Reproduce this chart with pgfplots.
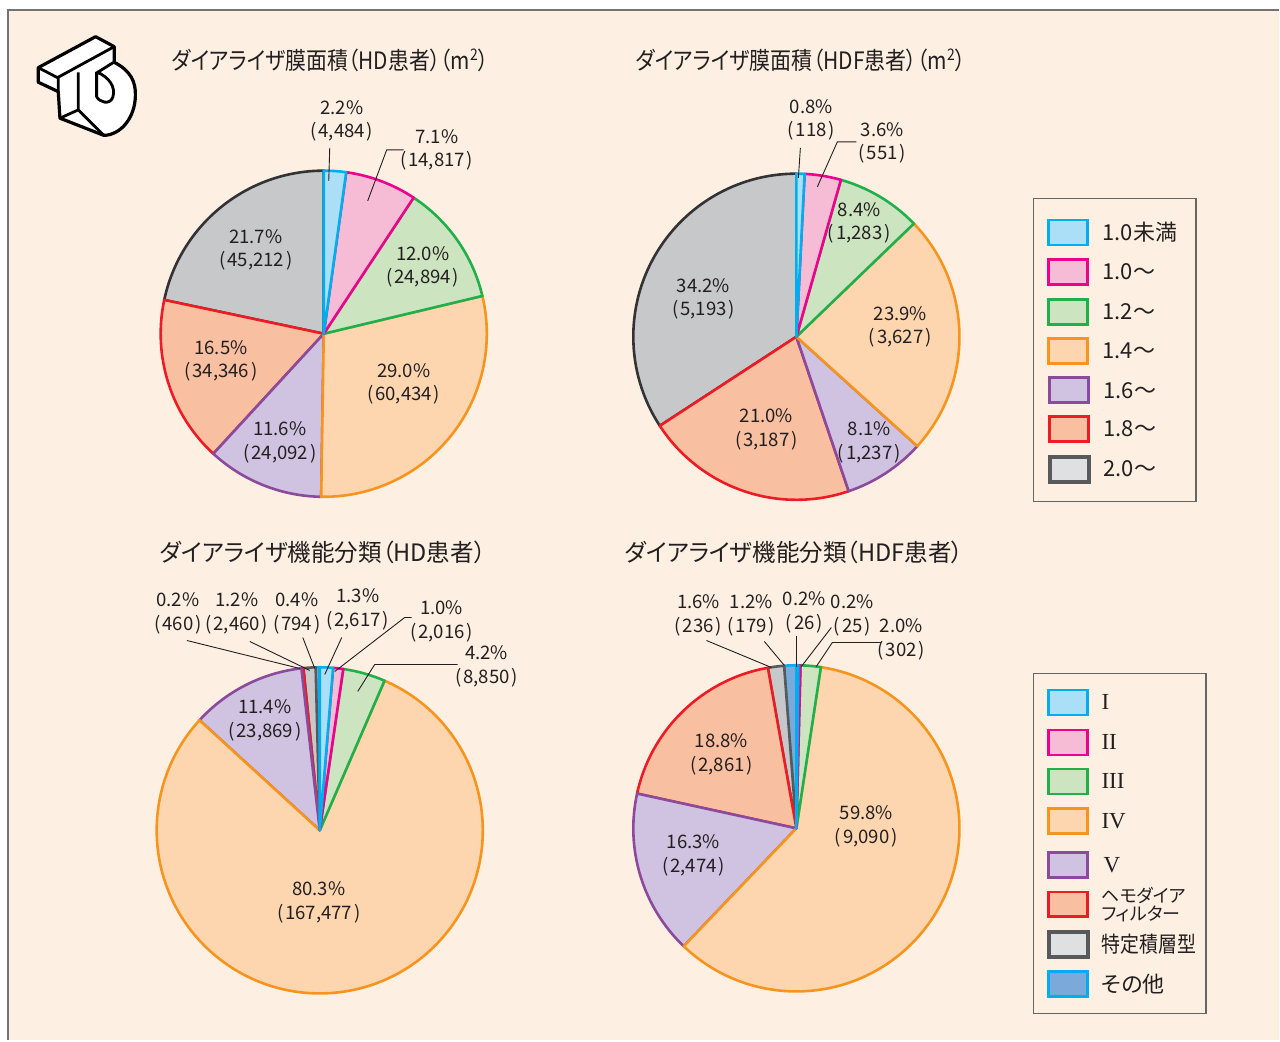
\documentclass[border=0pt]{standalone}
\usepackage{pgfplots}
\pgfplotsset{compat=1.18}
\usepackage{fontspec}
\setmainfont{Noto Sans CJK JP}[RawFeature={+palt}]
\newfontfamily\romanfont{Liberation Serif}

\definecolor{bgcream}{HTML}{FDF0E2}
\definecolor{txt}{HTML}{231F20}
\definecolor{f1}{HTML}{ABDEF7}\definecolor{d1}{HTML}{00AEEF}
\definecolor{f2}{HTML}{F6BCD5}\definecolor{d2}{HTML}{EC008C}
\definecolor{f3}{HTML}{CDE4C1}\definecolor{d3}{HTML}{1FAF4B}
\definecolor{f4}{HTML}{FDD6B0}\definecolor{d4}{HTML}{F7941D}
\definecolor{f5}{HTML}{CFC3E1}\definecolor{d5}{HTML}{8B4A9C}
\definecolor{f6}{HTML}{F9BFA1}\definecolor{d6}{HTML}{ED1C24}
\definecolor{f7}{HTML}{C7C8CA}\definecolor{d7}{HTML}{333335}
\definecolor{f7l}{HTML}{DFE0E1}\definecolor{d7l}{HTML}{58595B}
\definecolor{f8}{HTML}{7AA9DA}\definecolor{d8}{HTML}{00AEEF}

% pie: #1 cx, #2 cy (axis units), #3 total, #4 list value/fill/draw,
% listed from the last category to the first, laid counterclockwise from the top
\newcommand\pie[4]{%
  \xdef\cumangle{90}%
  \foreach \p/\f/\d in {#4}{%
    \pgfmathsetmacro\a{\cumangle}%
    \pgfmathsetmacro\b{\cumangle+(\p/#3)*360}%
    \edef\temp{\noexpand\filldraw[fill=\f,draw=\d,line width=1.3pt,line join=round]
      (axis cs:#1,#2) -- ++(\a:81.6pt) arc[start angle=\a,end angle=\b,radius=81.6pt] -- cycle;}%
    \temp
    \xdef\cumangle{\b}%
  }%
}
\newcommand\pp[1]{(\kern0.1em#1\kern0.1em)}
\newcommand\lab[4]{\node[lbl] at (axis cs:#1,#2) {#3\\\pp{#4}};}

\begin{document}
\begin{tikzpicture}[
  lbl/.style={align=center,text=txt,inner sep=0pt,font=\fontsize{9.3}{11.8}\selectfont},
  ttl/.style={anchor=west,text=txt,inner sep=0pt,font=\fontsize{12}{14}\selectfont},
  leg/.style={anchor=west,text=txt,inner sep=0pt,font=\fontsize{11}{13}\selectfont},
  leader/.style={draw=txt,line width=0.45pt},
  sw/.style={line width=1.3pt}]
\begin{axis}[hide axis, scale only axis, width=640pt, height=520.5pt,
  xmin=0, xmax=1280, ymin=0, ymax=1041, y dir=reverse, clip=false]

% background panel
\fill[white] (axis cs:0,0) rectangle (axis cs:1280,1041);
\fill[bgcream] (axis cs:8,10) rectangle (axis cs:1280,1041);
\draw[color=black!55, line width=1pt] (axis cs:8,1041) -- (axis cs:8,10) -- (axis cs:1280,10);

% logo
\filldraw[fill=white, draw=black, line width=1.6pt, line join=round]
  (axis cs:38.3,67.7) -- (axis cs:95.7,36.7) -- (axis cs:114.3,46.7) -- (axis cs:114.3,62.3)
  .. controls (axis cs:131,71) and (axis cs:136,82) .. (axis cs:135.5,96)
  .. controls (axis cs:135,118) and (axis cs:121,135) .. (axis cs:104,135.5)
  -- (axis cs:60,118.3) -- (axis cs:58.3,91.7) -- (axis cs:38.3,82.3) -- cycle;
\draw[black, line width=1.4pt, line join=round]
  (axis cs:38.3,67.7) -- (axis cs:57.5,77.7) -- (axis cs:114.3,46.7)
  (axis cs:58.3,77.7) -- (axis cs:58.3,91.7)
  (axis cs:78.3,72.5) -- (axis cs:78.3,110) -- (axis cs:60,118.3)
  (axis cs:78.3,110) -- (axis cs:104,135.5)
  (axis cs:96.7,73) -- (axis cs:113.5,62.5)
  (axis cs:96.7,72) -- (axis cs:96.7,96.7) .. controls (axis cs:99,102) and (axis cs:110,106) .. (axis cs:113,97)
  .. controls (axis cs:116,87) and (axis cs:109,77) .. (axis cs:96.7,72);

% titles
\node[ttl] at (axis cs:172,60) {\scalebox{0.87}[1]{ダイアライザ膜面積（HD患者）（m\textsuperscript{2}）}};
\node[ttl] at (axis cs:636,60) {\scalebox{0.875}[1]{ダイアライザ膜面積（HDF患者）（m\textsuperscript{2}）}};
\node[ttl] at (axis cs:160,553) {\scalebox{0.98}[1]{ダイアライザ機能分類（HD患者）}};
\node[ttl] at (axis cs:625,553) {\scalebox{0.98}[1]{ダイアライザ機能分類（HDF患者）}};

% ---- pie 1: membrane area, HD (1.0未満, 1.0~, 1.2~, 1.4~, 1.6~, 1.8~, 2.0~ = 2.2, 7.1, 12.0, 29.0, 11.6, 16.5, 21.7)
\pie{324}{334}{100.1}{21.7/f7/d7, 16.5/f6/d6, 11.6/f5/d5, 29.0/f4/d4, 12.0/f3/d3, 7.1/f2/d2, 2.2/f1/d1}
% ---- pie 2: membrane area, HDF (0.8, 3.6, 8.4, 23.9, 8.1, 21.0, 34.2)
\pie{797}{337}{100.0}{34.2/f7/d7, 21.0/f6/d6, 8.1/f5/d5, 23.9/f4/d4, 8.4/f3/d3, 3.6/f2/d2, 0.8/f1/d1}
% ---- pie 3: function class, HD (I..V, hemodiafilter, layered, other = 1.3, 1.0, 4.2, 80.3, 11.4, 0.2, 1.2, 0.4)
\pie{320}{831}{100.0}{0.4/f8/d8, 1.2/f7/d7l, 0.2/f6/d6, 11.4/f5/d5, 80.3/f4/d4, 4.2/f3/d3, 1.0/f2/d2, 1.3/f1/d1}
% ---- pie 4: function class, HDF (0.2, 0.2, 2.0, 59.8, 16.3, 18.8, 1.6, 1.2)
\pie{797}{829}{100.1}{1.2/f8/d8, 1.6/f7/d7l, 18.8/f6/d6, 16.3/f5/d5, 59.8/f4/d4, 2.0/f3/d3, 0.2/f2/d2, 0.2/f1/d1}

% leader lines
\draw[leader] (axis cs:330,148) -- (axis cs:329,181);
\draw[leader] (axis cs:404,150) -- (axis cs:387,150) -- (axis cs:368,201);
\draw[leader] (axis cs:801,148) -- (axis cs:799,178);
\draw[leader] (axis cs:857,142) -- (axis cs:838,142) -- (axis cs:818,187);
\draw[leader] (axis cs:187,641) -- (axis cs:300,669);
\draw[leader] (axis cs:250,642) -- (axis cs:310,671);
\draw[leader] (axis cs:303,638) -- (axis cs:315,669);
\draw[leader] (axis cs:342,638) -- (axis cs:325,675);
\draw[leader] (axis cs:412,618) -- (axis cs:405,618) -- (axis cs:335,672);
\draw[leader] (axis cs:458,665) -- (axis cs:375,665) -- (axis cs:358,692);
\draw[leader] (axis cs:707,641) -- (axis cs:772,668);
\draw[leader] (axis cs:765,642) -- (axis cs:785,666);
\draw[leader] (axis cs:797,637) -- (axis cs:797,668);
\draw[leader] (axis cs:832,628) -- (axis cs:802,667);
\draw[leader] (axis cs:882,643) -- (axis cs:833,643) -- (axis cs:817,667);

% labels pie 1
\lab{342}{121}{2.2\%}{4,484}
\lab{437}{150}{7.1\%}{14,817}
\lab{423}{267}{12.0\%}{24,894}
\lab{404}{384}{29.0\%}{60,434}
\lab{280}{443}{11.6\%}{24,092}
\lab{221}{361}{16.5\%}{34,346}
\lab{256}{250}{21.7\%}{45,212}
% labels pie 2
\lab{812}{120}{0.8\%}{118}
\lab{883}{143}{3.6\%}{551}
\lab{860}{223}{8.4\%}{1,283}
\lab{901}{327}{23.9\%}{3,627}
\lab{870}{443}{8.1\%}{1,237}
\lab{767}{430}{21.0\%}{3,187}
\lab{704}{299}{34.2\%}{5,193}
% labels pie 3
\lab{178}{614}{0.2\%}{460}
\lab{237}{614}{1.2\%}{2,460}
\lab{297}{614}{0.4\%}{794}
\lab{358}{610}{1.3\%}{2,617}
\lab{442}{622}{1.0\%}{2,016}
\lab{487}{667}{4.2\%}{8,850}
\lab{265}{721}{11.4\%}{23,869}
\lab{319}{903}{80.3\%}{167,477}
% labels pie 4
\lab{699}{616}{1.6\%}{236}
\lab{752}{616}{1.2\%}{179}
\lab{805}{613}{0.2\%}{26}
\lab{853}{616}{0.2\%}{25}
\lab{902}{640}{2.0\%}{302}
\lab{722}{755}{18.8\%}{2,861}
\lab{694}{856}{16.3\%}{2,474}
\lab{867}{827}{59.8\%}{9,090}

% legend 1
\draw[color=black!60, line width=0.6pt] (axis cs:1034,199) rectangle (axis cs:1197,502);
\draw[sw, fill=f1, draw=d1] (axis cs:1049.5,220) rectangle (axis cs:1088.5,245);
\draw[sw, fill=f2, draw=d2] (axis cs:1049.5,259.5) rectangle (axis cs:1088.5,284.5);
\draw[sw, fill=f3, draw=d3] (axis cs:1049.5,299.5) rectangle (axis cs:1088.5,324.5);
\draw[sw, fill=f4, draw=d4] (axis cs:1049.5,339) rectangle (axis cs:1088.5,364);
\draw[sw, fill=f5, draw=d5] (axis cs:1050.5,378) rectangle (axis cs:1089.5,403);
\draw[sw, fill=f6, draw=d6] (axis cs:1050.5,417) rectangle (axis cs:1089.5,442);
\draw[line width=2pt, fill=f7l, draw=d7l] (axis cs:1050.5,457) rectangle (axis cs:1089.5,482);
\node[leg] at (axis cs:1103,232.5) {1.0未満};
\node[leg] at (axis cs:1103,272) {1.0〜};
\node[leg] at (axis cs:1103,312) {1.2〜};
\node[leg] at (axis cs:1103,351.5) {1.4〜};
\node[leg] at (axis cs:1104,390.5) {1.6〜};
\node[leg] at (axis cs:1104,429.5) {1.8〜};
\node[leg] at (axis cs:1104,469.5) {2.0〜};

% legend 2
\draw[color=black!60, line width=0.6pt] (axis cs:1034,674) rectangle (axis cs:1207,1014);
\draw[sw, fill=f1, draw=d1] (axis cs:1049.5,690.5) rectangle (axis cs:1088.5,715.5);
\draw[sw, fill=f2, draw=d2] (axis cs:1049.5,730.5) rectangle (axis cs:1088.5,755.5);
\draw[sw, fill=f3, draw=d3] (axis cs:1049.5,769.5) rectangle (axis cs:1088.5,794.5);
\draw[sw, fill=f4, draw=d4] (axis cs:1049.5,809) rectangle (axis cs:1088.5,834);
\draw[sw, fill=f5, draw=d5] (axis cs:1049.5,853) rectangle (axis cs:1088.5,878);
\draw[sw, fill=f6, draw=d6] (axis cs:1049.5,892.5) rectangle (axis cs:1088.5,917.5);
\draw[line width=2pt, fill=f7l, draw=d7l] (axis cs:1049.5,932.5) rectangle (axis cs:1088.5,957.5);
\draw[line width=1.6pt, fill=f8, draw=d8] (axis cs:1049.5,972.5) rectangle (axis cs:1088.5,997.5);
\node[leg, font=\romanfont\fontsize{11.5}{13}\selectfont] at (axis cs:1102,703) {I};
\node[leg, font=\romanfont\fontsize{11.5}{13}\selectfont] at (axis cs:1102,743) {II};
\node[leg, font=\romanfont\fontsize{11.5}{13}\selectfont] at (axis cs:1102,782) {III};
\node[leg, font=\romanfont\fontsize{11.5}{13}\selectfont] at (axis cs:1102,821.5) {IV};
\node[leg, font=\romanfont\fontsize{11.5}{13}\selectfont] at (axis cs:1104,865.5) {V};
\node[leg, align=left, font=\fontsize{9}{7.6}\selectfont] at (axis cs:1102,905.5) {ヘモダイア\\フィルター};
\node[leg] at (axis cs:1102,945) {\scalebox{0.86}[1]{特定積層型}};
\node[leg] at (axis cs:1102,985) {その他};

\end{axis}
\end{tikzpicture}
\end{document}
